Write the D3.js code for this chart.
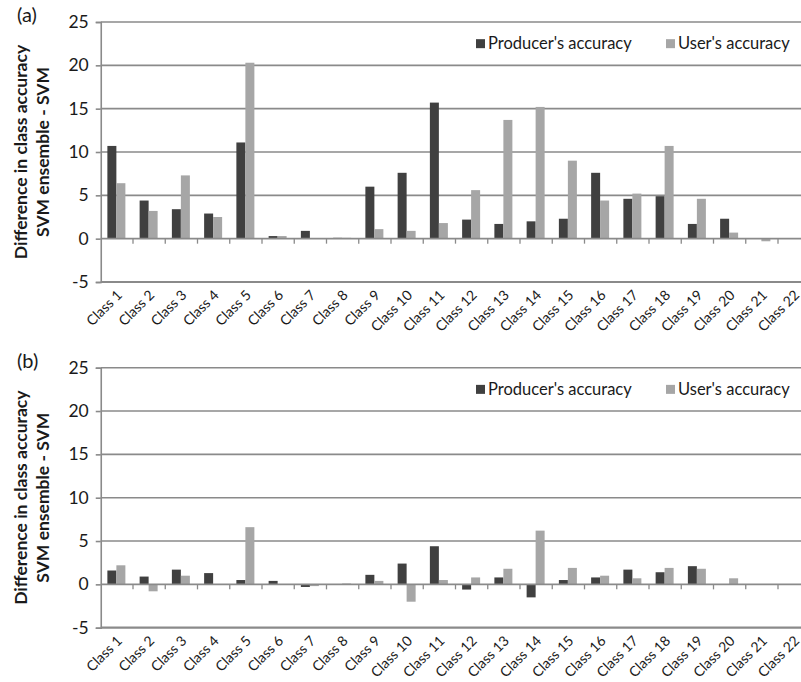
<!DOCTYPE html>
<html><head><meta charset="utf-8">
<script src="https://cdn.jsdelivr.net/npm/d3@7"></script>
<style>body{margin:0;background:#fff}svg{display:block}text{font-family:Lato,"Open Sans",sans-serif;fill:#1a1a1a}</style>
</head><body><svg id="c" width="801" height="682"></svg>
<script>
const categories = ["Class 1","Class 2","Class 3","Class 4","Class 5","Class 6","Class 7","Class 8","Class 9","Class 10","Class 11","Class 12","Class 13","Class 14","Class 15","Class 16","Class 17","Class 18","Class 19","Class 20","Class 21","Class 22"];
const seriesNames = ["Producer's accuracy","User's accuracy"];
const yTicks = [-5,0,5,10,15,20,25];
const producerA = [10.7,4.4,3.4,2.9,11.1,0.3,0.9,0.1,6.0,7.6,15.7,2.2,1.7,2.0,2.3,7.6,4.6,4.9,1.7,2.3,0,0];
const userA     = [6.4,3.2,7.3,2.5,20.3,0.3,0,0.1,1.1,0.9,1.8,5.6,13.7,15.2,9.0,4.4,5.2,10.7,4.6,0.7,-0.3,0];
const producerB = [1.6,0.9,1.7,1.3,0.5,0.4,-0.3,0,1.1,2.4,4.4,-0.6,0.8,-1.5,0.5,0.8,1.7,1.4,2.1,0,0,0];
const userB     = [2.2,-0.8,1.0,0,6.6,0,-0.2,0.1,0.4,-2.0,0.5,0.8,1.8,6.2,1.9,1.0,0.7,1.9,1.8,0.7,0,0];
const panelLabels = ["(a)","(b)"];
const colors = ["#404040","#a6a6a6"];

const svg = d3.select("#c");
const x0 = d3.scaleBand().domain(categories).range([100.75, 810.25]).padding(0);
const bw = x0.bandwidth();
const x1 = d3.scaleBand().domain(seriesNames).range([bw/2 - 9.5, bw/2 + 8.5]).padding(0);
const grid = "#8a8a8a";

function panel(top, label, prod, user){
  const y = d3.scaleLinear().domain([-5,25]).range([top+260, top]);
  const g = svg.append("g");
  g.selectAll("line.grid").data(yTicks.filter(v=>v>0)).join("line")
    .attr("x1",100.75).attr("x2",801).attr("y1",d=>y(d)).attr("y2",d=>y(d))
    .attr("stroke",grid).attr("stroke-width",1.6);
  g.append("line").attr("x1",100.75).attr("x2",801).attr("y1",y(-5)).attr("y2",y(-5))
    .attr("stroke",grid).attr("stroke-width",2.2);
  const data = categories.map((c,i)=>({c, vals:[prod[i],user[i]]}));
  const cg = g.selectAll("g.cat").data(data).join("g").attr("transform",d=>`translate(${x0(d.c)},0)`);
  cg.selectAll("rect").data(d=>d.vals.map((v,j)=>({v,s:seriesNames[j],j}))).join("rect")
    .attr("x",d=>x1(d.s)).attr("width",x1.bandwidth())
    .attr("y",d=>Math.min(y(d.v),y(0))).attr("height",d=>Math.abs(y(d.v)-y(0)))
    .attr("fill",d=>colors[d.j]);
  g.append("line").attr("x1",100.75).attr("x2",801).attr("y1",y(0)).attr("y2",y(0))
    .attr("stroke",grid).attr("stroke-width",1.6);
  g.selectAll("line.xt").data(categories.slice(1)).join("line")
    .attr("x1",d=>x0(d)).attr("x2",d=>x0(d)).attr("y1",y(0)).attr("y2",y(0)+5)
    .attr("stroke",grid).attr("stroke-width",1.3);
  const ya = d3.axisLeft(y).tickValues(yTicks).tickSize(5).tickPadding(7).tickFormat(d=>String(d));
  const ag = g.append("g").attr("transform","translate(100.75,0)").call(ya);
  ag.select(".domain").attr("stroke",grid).attr("stroke-width",1.6);
  ag.selectAll(".tick line").attr("stroke",grid).attr("stroke-width",1.6);
  ag.selectAll(".tick text").style("font-size","17.5px").attr("fill","#1a1a1a");
  g.selectAll("text.xl").data(categories).join("text")
    .attr("transform",d=>`translate(${x0(d)+bw/2+6},${y(-5)+14}) rotate(-45)`)
    .attr("text-anchor","end").style("font-size","14px").text(d=>d);
  const t = g.append("text").attr("transform",`translate(0,${top+130}) rotate(-90)`)
    .attr("text-anchor","middle").style("font-size","17.5px").style("font-weight","bold");
  t.append("tspan").attr("x",0).attr("y",27).text("Difference in class accuracy");
  t.append("tspan").attr("x",0).attr("y",49).text("SVM ensemble - SVM");
  g.append("text").attr("x",17).attr("y",top).style("font-size","20px").text(label);
  const ly = y(22.5);
  const leg = [{n:seriesNames[0],x:476,tx:488},{n:seriesNames[1],x:666,tx:678}];
  leg.forEach((l,i)=>{
    g.append("rect").attr("x",l.x).attr("y",ly-4.5).attr("width",9).attr("height",9).attr("fill",colors[i]);
    g.append("text").attr("x",l.tx).attr("y",ly+5.5).style("font-size","16.5px").text(l.n);
  });
}
panel(22, panelLabels[0], producerA, userA);
panel(367.7, panelLabels[1], producerB, userB);
</script></body></html>
